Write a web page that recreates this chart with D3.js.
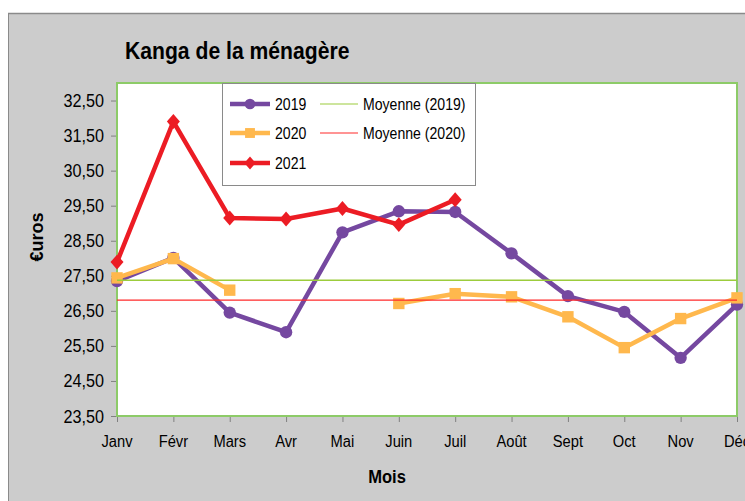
<!DOCTYPE html>
<html>
<head>
<meta charset="utf-8">
<script src="https://cdn.jsdelivr.net/npm/d3@7"></script>
<style>
  html, body { margin: 0; padding: 0; background: #ffffff; }
  svg { display: block; }
  text { font-family: "Liberation Sans", Arial, sans-serif; fill: #000; }
</style>
</head>
<body>
<svg id="chart" width="745" height="501"></svg>
<script>
// ---- Data ----
const months = ["Janv", "Févr", "Mars", "Avr", "Mai", "Juin", "Juil", "Août", "Sept", "Oct", "Nov", "Déc"];
const values2019 = [27.35, 28.01, 26.45, 25.89, 28.74, 29.34, 29.32, 28.14, 26.92, 26.47, 25.16, 26.68];
const values2020 = [27.44, 27.99, 27.09, null, null, 26.71, 26.99, 26.90, 26.33, 25.45, 26.28, 26.87];
const values2021 = [27.89, 31.90, 29.15, 29.12, 29.42, 28.96, 29.67, null, null, null, null, null];
const yTicks = [23.5, 24.5, 25.5, 26.5, 27.5, 28.5, 29.5, 30.5, 31.5, 32.5];
const mean2019 = d3.mean(values2019);
const mean2020 = d3.mean(values2020.filter(v => v != null));

const title = "Kanga de la ménagère";
const xTitle = "Mois";
const yTitle = "€uros";

// ---- Layout ----
const svg = d3.select("#chart");
const plot = { left: 117, right: 737, top: 83, bottom: 416 };

// background frame
svg.append("rect").attr("x", 8).attr("y", 13).attr("width", 745).attr("height", 501).attr("fill", "#cccccc");
svg.append("line").attr("x1", 8).attr("x2", 745).attr("y1", 13.5).attr("y2", 13.5).attr("stroke", "#8a8a8a").attr("stroke-width", 1.5);
svg.append("line").attr("x1", 8.5).attr("x2", 8.5).attr("y1", 13).attr("y2", 501).attr("stroke", "#8a8a8a").attr("stroke-width", 1);

const x = d3.scalePoint().domain(months).range([plot.left, plot.right]).padding(0);
const y = d3.scaleLinear().domain([23.5, 33]).range([plot.bottom, plot.top]);

// plot area
svg.append("rect")
  .attr("x", plot.left).attr("y", plot.top)
  .attr("width", plot.right - plot.left).attr("height", plot.bottom - plot.top)
  .attr("fill", "#ffffff");

// helper for condensed text
function ctext(parent, str, tx, ty, opts) {
  const o = Object.assign({ size: 16, sx: 0.9, anchor: "start", weight: "normal", rotate: 0 }, opts || {});
  return parent.append("text")
    .attr("transform", `translate(${tx},${ty}) rotate(${o.rotate}) scale(${o.sx},1)`)
    .attr("text-anchor", o.anchor)
    .attr("font-size", o.size)
    .attr("font-weight", o.weight)
    .text(str);
}

// axes
const fmt = d3.format(".2f");
const yAxis = d3.axisLeft(y).tickValues(yTicks).tickSize(6).tickFormat(() => "");
const gy = svg.append("g").attr("transform", `translate(${plot.left},0)`).call(yAxis);
gy.select(".domain").remove();
gy.selectAll(".tick line").attr("stroke", "#808080");
yTicks.forEach(v => ctext(svg, fmt(v).replace(".", ","), 104, y(v) + 6.5, { size: 18, sx: 0.9, anchor: "end" }));

const xAxis = d3.axisBottom(x).tickSize(6).tickFormat(() => "");
const gx = svg.append("g").attr("transform", `translate(0,${plot.bottom})`).call(xAxis);
gx.select(".domain").remove();
gx.selectAll(".tick line").attr("stroke", "#808080");
months.forEach(m => ctext(svg, m, x(m), 447, { size: 16, sx: 0.92, anchor: "middle" }));

// plot border
svg.append("rect")
  .attr("x", plot.left).attr("y", plot.top)
  .attr("width", plot.right - plot.left).attr("height", plot.bottom - plot.top)
  .attr("fill", "none").attr("stroke", "#8dcb68").attr("stroke-width", 2);

// custom diamond (roughly as wide as tall)
const diamondSym = {
  draw(ctx, size) {
    const h = Math.sqrt(size / 2);
    const w = h * 0.87;
    ctx.moveTo(0, -h); ctx.lineTo(w, 0); ctx.lineTo(0, h); ctx.lineTo(-w, 0); ctx.closePath();
  }
};

// series
const series = [
  { name: "2019", values: values2019, color: "#7548a0", marker: "circle" },
  { name: "2020", values: values2020, color: "#ffb84d", marker: "square" },
  { name: "2021", values: values2021, color: "#ec1c24", marker: "diamond" }
];
const symbolFor = { circle: d3.symbolCircle, square: d3.symbolSquare, diamond: diamondSym };
const sizeFor = { circle: 120, square: 130, diamond: 112 };

const line = d3.line()
  .defined(d => d.v != null)
  .x(d => x(d.m))
  .y(d => y(d.v));

series.forEach(s => {
  const pts = months.map((m, i) => ({ m, v: s.values[i] }));
  svg.append("path")
    .datum(pts)
    .attr("d", line)
    .attr("fill", "none")
    .attr("stroke", s.color)
    .attr("stroke-width", 4.5)
    .attr("stroke-linejoin", "round");
  svg.append("g").selectAll("path")
    .data(pts.filter(d => d.v != null))
    .join("path")
    .attr("transform", d => `translate(${x(d.m)},${y(d.v)})`)
    .attr("d", d3.symbol().type(symbolFor[s.marker]).size(sizeFor[s.marker]))
    .attr("fill", s.color);
});

// mean lines
const means = [
  { name: "Moyenne (2019)", value: mean2019, color: "#9ccc3c", width: 1.5 },
  { name: "Moyenne (2020)", value: mean2020, color: "#ff2a2a", width: 1.2 }
];
means.forEach(mn => {
  svg.append("line")
    .attr("x1", plot.left).attr("x2", plot.right)
    .attr("y1", y(mn.value)).attr("y2", y(mn.value))
    .attr("stroke", mn.color).attr("stroke-width", mn.width);
});

// legend
const lg = svg.append("g");
lg.append("rect").attr("x", 222.5).attr("y", 83.5).attr("width", 253).attr("height", 102)
  .attr("fill", "#ffffff").attr("stroke", "#8a8a8a").attr("stroke-width", 1);
const rowsY = [104, 133, 163];
series.forEach((s, i) => {
  const yy = rowsY[i];
  lg.append("line").attr("x1", 230).attr("x2", 270).attr("y1", yy).attr("y2", yy)
    .attr("stroke", s.color).attr("stroke-width", 4.5);
  lg.append("path").attr("transform", `translate(250,${yy})`)
    .attr("d", d3.symbol().type(symbolFor[s.marker]).size(sizeFor[s.marker] * 0.75))
    .attr("fill", s.color);
  ctext(lg, s.name, 275, yy + 6, { size: 16, sx: 0.88 });
});
means.forEach((mn, i) => {
  const yy = rowsY[i];
  lg.append("line").attr("x1", 320).attr("x2", 358).attr("y1", yy).attr("y2", yy)
    .attr("stroke", mn.color).attr("stroke-width", 1.2);
  ctext(lg, mn.name, 363, yy + 6, { size: 16, sx: 0.88 });
});

// titles
ctext(svg, title, 125, 59, { size: 23, sx: 0.92, weight: "bold" });
ctext(svg, xTitle, 387, 483, { size: 18, sx: 0.92, weight: "bold", anchor: "middle" });
ctext(svg, yTitle, 43, 237, { size: 18, sx: 1, weight: "bold", anchor: "middle", rotate: -90 });
</script>
</body>
</html>
